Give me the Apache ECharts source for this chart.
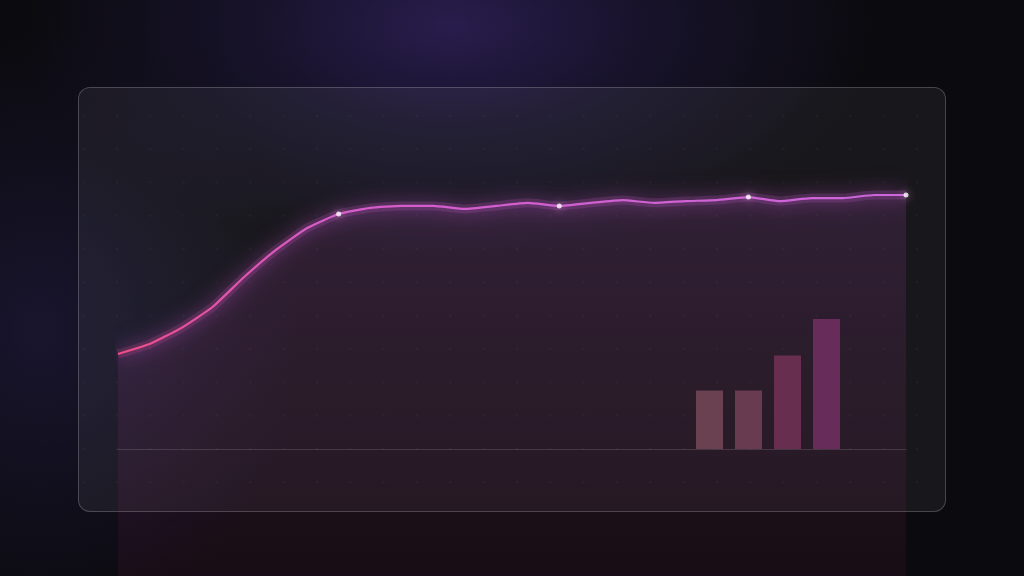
<!DOCTYPE html>
<html>
<head>
<meta charset="utf-8">
<script src="https://cdn.jsdelivr.net/npm/echarts@6/dist/echarts.min.js"></script>
<style>
  html, body { margin: 0; padding: 0; width: 1024px; height: 576px; overflow: hidden; }
  body {
    background:
      radial-gradient(ellipse 430px 230px at 450px 25px, rgba(42,30,80,0.95) 0%, rgba(34,26,66,0.55) 45%, rgba(20,16,36,0) 100%),
      radial-gradient(ellipse 260px 300px at 40px 330px, rgba(36,30,72,0.55) 0%, rgba(20,18,40,0) 100%),
      #0b0a0e;
  }
  #panel {
    position: absolute; left: 78px; top: 87px; width: 866px; height: 423px;
    border: 1px solid rgba(255,255,255,0.2); border-radius: 12px;
    background-color: rgba(255,255,255,0.055);
    background-image: radial-gradient(circle, rgba(255,255,255,0.035) 1px, rgba(255,255,255,0) 1.6px);
    background-size: 33.33px 33.33px;
    background-position: -12px 11px;
  }
  #chart { position: absolute; left: 0; top: 0; width: 1024px; height: 576px; }
</style>
</head>
<body>
<div id="panel"></div>
<div id="chart"></div>
<script>
// line values (percent), 26 points
const steps = ['1','2','3','4','5','6','7','8','9','10','11','12','13','14','15','16','17','18','19','20','21','22','23','24','25','26'];
const progress = [37.4, 41.3, 47.6, 55.9, 67.7, 78.3, 87.0, 92.5, 94.9, 95.7, 95.7, 94.5, 95.7, 96.9, 95.7, 96.9, 98.0, 96.9, 97.6, 98.0, 99.2, 97.6, 98.8, 98.8, 100, 100];
const highlight = [7, 14, 20, 25];

// small bars at the lower right
const barCats = ['A', 'B', 'C', 'D'];
const barValues = [45, 45, 72, 100];
const barColors = ['#6a4150', '#683b50', '#672e50', '#672c5a'];

const chart = echarts.init(document.getElementById('chart'));

const lineGrad = () => new echarts.graphic.LinearGradient(0, 0, 1, 0, [
  { offset: 0, color: '#f04c86' },
  { offset: 0.25, color: '#d65cc8' },
  { offset: 1, color: '#cc66dc' }
]);

chart.setOption({
  backgroundColor: 'transparent',
  animation: false,
  grid: [
    { left: 118, right: 118, top: 68, bottom: 0 },
    { left: 690, right: 178, top: 319, bottom: 127 }
  ],
  xAxis: [
    {
      gridIndex: 0, type: 'category', data: steps, boundaryGap: false,
      axisLine: { onZero: true, lineStyle: { color: 'rgba(255,255,255,0.14)', width: 1 } },
      axisTick: { show: false }, axisLabel: { show: false }, splitLine: { show: false }
    },
    {
      gridIndex: 1, type: 'category', data: barCats,
      axisLine: { show: false }, axisTick: { show: false }, axisLabel: { show: false }
    }
  ],
  yAxis: [
    { gridIndex: 0, type: 'value', min: -50, max: 150, show: false },
    { gridIndex: 1, type: 'value', min: 0, max: 100, show: false }
  ],
  series: [
    {
      // soft halo under the line
      type: 'line',
      data: progress,
      xAxisIndex: 0, yAxisIndex: 0,
      showSymbol: false,
      smooth: 0.15,
      silent: true,
      lineStyle: { width: 9, color: lineGrad(), opacity: 0.18, shadowBlur: 24, shadowColor: 'rgba(214,90,220,0.9)' },
      z: 2
    },
    {
      type: 'line',
      data: progress,
      xAxisIndex: 0, yAxisIndex: 0,
      showSymbol: false,
      smooth: 0.15,
      lineStyle: {
        width: 2.2,
        color: lineGrad(),
        shadowBlur: 16,
        shadowColor: 'rgba(214,90,220,1)'
      },
      areaStyle: {
        origin: 'start',
        color: new echarts.graphic.LinearGradient(0, 0, 0, 1, [
          { offset: 0, color: 'rgba(170,80,190,0.24)' },
          { offset: 1, color: 'rgba(190,50,120,0.10)' }
        ])
      },
      z: 3
    },
    {
      type: 'scatter',
      xAxisIndex: 0, yAxisIndex: 0,
      data: highlight.map(i => [i, progress[i]]),
      symbolSize: 5,
      itemStyle: { color: '#ffffff', shadowBlur: 8, shadowColor: 'rgba(255,180,255,0.9)' },
      z: 4
    },
    {
      type: 'bar',
      xAxisIndex: 1, yAxisIndex: 1,
      barWidth: 27,
      data: barValues.map((v, i) => ({ value: v, itemStyle: { color: barColors[i] } })),
      z: 5
    }
  ]
});
</script>
</body>
</html>
